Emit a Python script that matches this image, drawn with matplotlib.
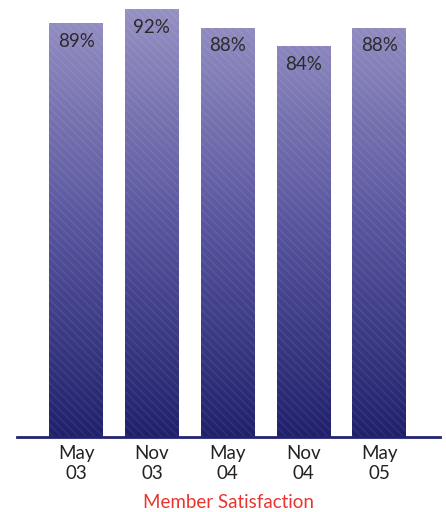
import numpy as np
import matplotlib
matplotlib.use("Agg")
import matplotlib.pyplot as plt
from matplotlib.colors import LinearSegmentedColormap

categories = ["May\n03", "Nov\n03", "May\n04", "Nov\n04", "May\n05"]
values = [89, 92, 88, 84, 88]
value_labels = ["89%", "92%", "88%", "84%", "88%"]
title = "Member Satisfaction"

plt.rcParams['font.family'] = ['Lato', 'DejaVu Sans']

fig = plt.figure(figsize=(4.46, 5.12), dpi=100)
ax = fig.add_axes([17/446, (512-437)/512, (440-17)/446, 437/512])

x = np.arange(len(values))
width = 0.71
bars = ax.bar(x, values, width=width, color='none', edgecolor='none', zorder=2)

cmap = LinearSegmentedColormap.from_list("g", ["#20206c", "#5a57a0", "#9893c4"])
grad = np.linspace(0, 1, 256).reshape(-1, 1)
for b in bars:
    x0, y0 = b.get_x(), b.get_y()
    w, h = b.get_width(), b.get_height()
    im = ax.imshow(grad, cmap=cmap, aspect='auto', origin='lower',
                   extent=[x0, x0 + w, 0, 94], zorder=1, vmin=0, vmax=1)
    im.set_clip_path(b)
    ax.bar(b.get_x() + w/2, h, width=w, color='none', edgecolor=(1, 1, 1, 0.08),
           hatch='\\\\\\\\', linewidth=0, zorder=3)

for xi, v, lab in zip(x, values, value_labels):
    ax.text(xi, v - 2.0, lab, ha='center', va='top', fontsize=13.5, color='#2a2a2a', zorder=4)

ax.set_xlim(-0.78, 4.80)
ax.set_ylim(0, 94)
ax.set_xticks(x)
ax.set_xticklabels(categories, fontsize=13.5, color='#222222', linespacing=1.2)
ax.tick_params(axis='x', length=0, pad=6)
ax.set_yticks([])
for s in ['top', 'right', 'left']:
    ax.spines[s].set_visible(False)
ax.spines['bottom'].set_color('#232370')
ax.spines['bottom'].set_linewidth(2)
ax.spines['bottom'].set_zorder(5)

fig.text(228/446, 1 - 503/512, title, ha='center', va='center', fontsize=13.5, color='#e8352f')

fig.savefig("out.png", dpi=100)
